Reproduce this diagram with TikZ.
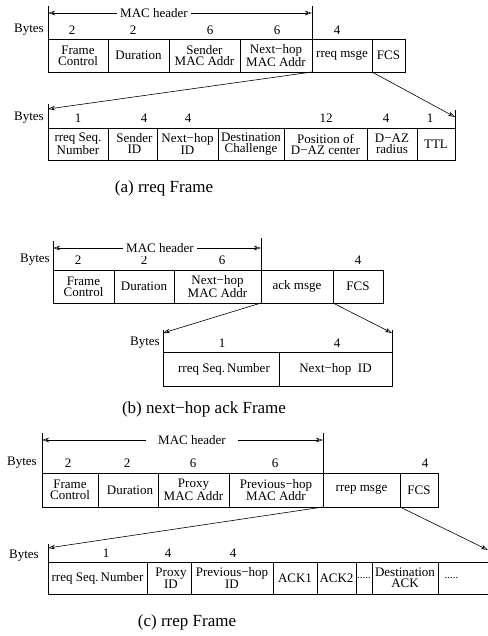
\documentclass[tikz,border=0pt]{standalone}
\usepackage{fontspec}
\setmainfont{Liberation Serif}
\usetikzlibrary{arrows.meta}

% one field of a frame: name, left x, right x, top y, bottom y, text
\newcommand\fcell[6]{%
  \node[cellbox, minimum width={(#3-#2)*1pt}, minimum height={(#5-#4)*1pt}]
    (#1) at ({(#2+#3)/2},{(#4+#5)/2}) {#6};}

\tikzset{
  cellbox/.style={draw, line width=0.7pt, inner sep=0pt, outer sep=0pt,
    align=center, font=\fontsize{13}{11}\selectfont},
  num/.style={inner sep=0pt, font=\fontsize{13}{15}\selectfont},
  byteslbl/.style={inner sep=0pt, anchor=east, font=\fontsize{13}{15}\selectfont},
  hdrlbl/.style={fill=white, inner sep=3pt, font=\fontsize{13}{15}\selectfont},
  caption/.style={inner sep=0pt, font=\fontsize{17}{20}\selectfont},
  tick/.style={line width=0.7pt},
  fan/.style={line width=0.6pt, -{Stealth[length=7pt,width=4.5pt,inset=2pt,open]}},
  span/.style={line width=0.6pt, {Stealth[length=7pt,width=4.5pt,inset=2pt,open]}-{Stealth[length=7pt,width=4.5pt,inset=2pt,open]}}
}

\begin{document}
\begin{tikzpicture}[x=1pt,y=-1pt]
\useasboundingbox (0,0) rectangle (487,636);

% ---------------- (a) rreq frame ----------------
\fcell{fa1}{48}{108}{39}{72}{Frame\\Control}
\fcell{fa2}{108}{169}{39}{72}{Duration}
\fcell{fa3}{169}{240}{39}{72}{Sender\\MAC Addr}
\fcell{fa4}{240}{312}{39}{72}{Next−hop\\MAC Addr}
\fcell{fa5}{312}{372}{39}{72}{rreq msge}
\fcell{fa6}{372}{405}{39}{72}{FCS}
\node[byteslbl] (ba1) at (44,30) {Bytes};
\node[num] (na1) at (72,30) {2};
\node[num] (na2) at (133,30) {2};
\node[num] (na3) at (210,30) {6};
\node[num] (na4) at (277,30) {6};
\node[num] (na5) at (337,30) {4};
\coordinate (tal) at (48,6);
\coordinate (tar) at (312,6);
\draw[tick] (tal) -- (fa1.north west);
\draw[tick] (tar) -- (fa4.north east);
\coordinate (hal) at (48,13);
\coordinate (har) at (312,13);
\draw[span] (hal) -- (har);
\node[hdrlbl] (hat) at (154,13) {MAC header};

\fcell{ra1}{48}{108}{128}{160}{rreq Seq.\\Number}
\fcell{ra2}{108}{157}{128}{160}{\hspace*{4pt}Sender\\\hspace*{4pt}ID}
\fcell{ra3}{157}{218}{128}{160}{Next−hop\\ID}
\fcell{ra4}{218}{284}{128}{160}{Destination\\Challenge}
\fcell{ra5}{284}{367}{128}{160}{Position of\\D−AZ center}
\fcell{ra6}{367}{417}{128}{160}{D−AZ\\radius}
\fcell{ra7}{417}{455}{128}{160}{TTL}
\node[byteslbl] (ba2) at (44,118) {Bytes};
\node[num] (ma1) at (78,118) {1};
\node[num] (ma2) at (144,118) {4};
\node[num] (ma3) at (188,118) {4};
\node[num] (ma4) at (326,118) {12};
\node[num] (ma5) at (386,118) {4};
\node[num] (ma6) at (430,118) {1};
\coordinate (ual) at (48,104);
\coordinate (uar) at (455,110);
\draw[tick] (ual) -- (ra1.north west);
\draw[tick] (uar) -- (ra7.north east);
\coordinate (pal) at (48,109);
\coordinate (par) at (455,117);
\draw[fan] (fa4.south east) -- (pal);
\draw[fan] (fa6.south west) -- (par);
\node[caption] (capa) at (164,188) {(a) rreq Frame};

% ---------------- (b) next-hop ack frame ----------------
\fcell{fb1}{53}{114}{270}{303}{Frame\\Control}
\fcell{fb2}{114}{174}{270}{303}{Duration}
\fcell{fb3}{174}{261}{270}{303}{Next−hop\\MAC Addr}
\fcell{fb4}{261}{333}{270}{303}{ack msge}
\fcell{fb5}{333}{383}{270}{303}{FCS}
\node[byteslbl] (bb1) at (50,260) {Bytes};
\node[num] (nb1) at (78,260) {2};
\node[num] (nb2) at (144,260) {2};
\node[num] (nb3) at (222,260) {6};
\node[num] (nb4) at (358,260) {4};
\coordinate (tbl) at (53,241);
\coordinate (tbr) at (261,238);
\draw[tick] (tbl) -- (fb1.north west);
\draw[tick] (tbr) -- (fb3.north east);
\coordinate (hbl) at (53,248);
\coordinate (hbr) at (261,248);
\draw[span] (hbl) -- (hbr);
\node[hdrlbl] (hbt) at (160,248) {MAC header};

\fcell{rb1}{163}{279}{352}{386}{\hspace*{6pt}rreq Seq.\,Number}
\fcell{rb2}{279}{392}{352}{386}{Next−hop\ \ ID}
\node[byteslbl] (bb2) at (160,343) {Bytes};
\node[num] (mb1) at (222,343) {1};
\node[num] (mb2) at (337,343) {4};
\coordinate (ubl) at (163,330);
\coordinate (ubr) at (392,330);
\draw[tick] (ubl) -- (rb1.north west);
\draw[tick] (ubr) -- (rb2.north east);
\coordinate (pbl) at (163,333);
\coordinate (pbr) at (392,333);
\draw[fan] (fb4.south west) -- (pbl);
\draw[fan] (fb5.south west) -- (pbr);
\node[caption] (capb) at (204,409) {(b) next−hop ack Frame};

% ---------------- (c) rrep frame ----------------
\fcell{fc1}{42}{98}{473}{507}{Frame\\Control}
\fcell{fc2}{98}{158}{473}{507}{\hspace*{4pt}Duration}
\fcell{fc3}{158}{229}{473}{507}{Proxy\\MAC Addr}
\fcell{fc4}{229}{323}{473}{507}{Previous−hop\\MAC Addr}
\fcell{fc5}{323}{400}{473}{507}{rrep msge}
\fcell{fc6}{400}{438}{473}{507}{FCS}
\node[byteslbl] (bc1) at (37,463) {Bytes};
\node[num] (nc1) at (68,463) {2};
\node[num] (nc2) at (127,463) {2};
\node[num] (nc3) at (193,463) {6};
\node[num] (nc4) at (275,463) {6};
\node[num] (nc5) at (425,463) {4};
\coordinate (tcl) at (42,433);
\coordinate (tcr) at (323,433);
\draw[tick] (tcl) -- (fc1.north west);
\draw[tick] (tcr) -- (fc4.north east);
\coordinate (hcl) at (42,440);
\coordinate (hcr) at (323,440);
\draw[span] (hcl) -- (hcr);
\node[hdrlbl, inner xsep=12pt] (hct) at (192,440) {MAC header};

\fcell{rc1}{48}{147}{562}{594}{rreq Seq.\,Number}
\fcell{rc2}{147}{191}{562}{594}{\hspace*{4pt}Proxy\\\hspace*{4pt}ID}
\fcell{rc3}{191}{273}{562}{594}{Previous−hop\\ID}
\fcell{rc4}{273}{317}{562}{594}{ACK1}
\fcell{rc5}{317}{356}{562}{594}{ACK2}
\fcell{rc6}{356}{372}{562}{594}{\fontsize{11}{12}\selectfont .....}
\fcell{rc7}{372}{438}{562}{594}{Destination\\ACK}
\fcell{rc8}{438}{489}{562}{594}{\fontsize{11}{12}\selectfont .....\hspace*{24pt}}
\node[byteslbl] (bc2) at (39,556) {Bytes};
\node[num] (mc1) at (106,553) {1};
\node[num] (mc2) at (168,553) {4};
\node[num] (mc3) at (233,553) {4};
\coordinate (ucl) at (48,544);
\draw[tick] (ucl) -- (rc1.north west);
\coordinate (pcl) at (48,548);
\coordinate (pcr) at (488,550);
\draw[fan] (fc4.south east) -- (pcl);
\draw[fan] (fc6.south west) -- (pcr);
\node[caption] (capc) at (187,622) {(c) rrep Frame};
\end{tikzpicture}
\end{document}
